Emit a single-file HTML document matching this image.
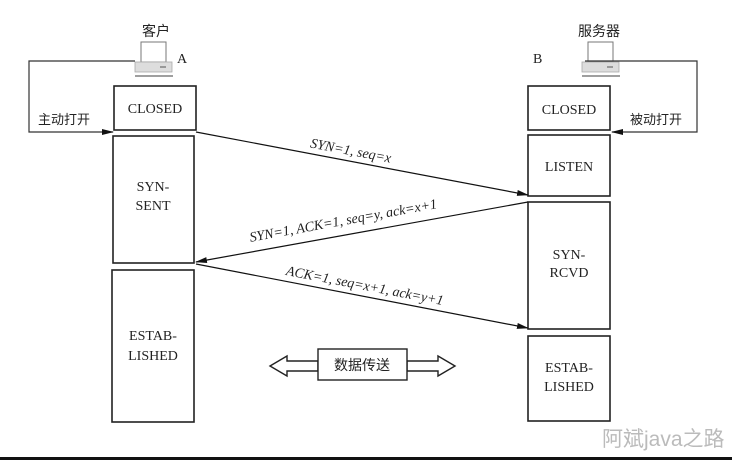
<!DOCTYPE html>
<html><head><meta charset="utf-8"><style>
html,body{margin:0;padding:0;background:#fff;}
svg{display:block}
text{font-family:"Liberation Serif","Noto Serif CJK SC",serif;fill:#222}
.cj{font-family:"Liberation Sans","Noto Sans CJK SC",sans-serif;}
</style></head><body>
<svg width="732" height="460" viewBox="0 0 732 460" xmlns="http://www.w3.org/2000/svg">
<defs>
<marker id="a" markerWidth="12" markerHeight="8" refX="11" refY="4" orient="auto" markerUnits="userSpaceOnUse">
<path d="M0,1 L12,4 L0,7 Z" fill="#111"/></marker>
</defs>
<rect width="732" height="460" fill="#fff"/>
<g>
<rect x="141" y="42" width="25" height="20" fill="#fff" stroke="#777" stroke-width="1"/>
<rect x="135" y="62" width="37" height="10" fill="#ddd" stroke="#aaa" stroke-width="0.8"/>
<line x1="135" y1="76" x2="173" y2="76" stroke="#666" stroke-width="1.2"/>
<line x1="160" y1="67" x2="166" y2="67" stroke="#555"/>
</g>
<g transform="translate(447,0)">
<rect x="141" y="42" width="25" height="20" fill="#fff" stroke="#777" stroke-width="1"/>
<rect x="135" y="62" width="37" height="10" fill="#ddd" stroke="#aaa" stroke-width="0.8"/>
<line x1="135" y1="76" x2="173" y2="76" stroke="#666" stroke-width="1.2"/>
<line x1="160" y1="67" x2="166" y2="67" stroke="#555"/>
</g>
<text x="142" y="36" font-size="14" class="cj">客户</text>
<text x="177" y="63" font-size="14">A</text>
<text x="578" y="36" font-size="14" class="cj">服务器</text>
<text x="533" y="63" font-size="14">B</text>
<polyline points="135,61 29,61 29,132 113,132" fill="none" stroke="#333" stroke-width="1.2" marker-end="url(#a)"/>
<text x="38" y="124" font-size="13" class="cj">主动打开</text>
<polyline points="585,61 697,61 697,132 612,132" fill="none" stroke="#333" stroke-width="1.2" marker-end="url(#a)"/>
<text x="630" y="124" font-size="13" class="cj">被动打开</text>
<g fill="#fff" stroke="#222" stroke-width="1.6">
<rect x="114" y="86" width="82" height="44"/>
<rect x="113" y="136" width="81" height="127"/>
<rect x="112" y="270" width="82" height="152"/>
<rect x="528" y="86" width="82" height="44"/>
<rect x="528" y="135" width="82" height="61"/>
<rect x="528" y="202" width="82" height="127"/>
<rect x="528" y="336" width="82" height="85"/>
</g>
<g font-size="14" text-anchor="middle">
<text x="155" y="113">CLOSED</text>
<text x="153" y="191">SYN-</text><text x="153" y="210">SENT</text>
<text x="153" y="340">ESTAB-</text><text x="153" y="360">LISHED</text>
<text x="569" y="114">CLOSED</text>
<text x="569" y="171">LISTEN</text>
<text x="569" y="259">SYN-</text><text x="569" y="277">RCVD</text>
<text x="569" y="372">ESTAB-</text><text x="569" y="391">LISHED</text>
</g>
<line x1="196" y1="132" x2="528" y2="195" stroke="#111" stroke-width="1.2" marker-end="url(#a)"/>
<line x1="528" y1="202" x2="196" y2="262" stroke="#111" stroke-width="1.2" marker-end="url(#a)"/>
<line x1="196" y1="264" x2="528" y2="328" stroke="#111" stroke-width="1.2" marker-end="url(#a)"/>
<g font-size="14" font-style="italic" text-anchor="middle">
<text transform="translate(350,155) rotate(10.7)">SYN=1, seq=x</text>
<text transform="translate(344,225) rotate(-10.2)">SYN=1, ACK=1, seq=y, ack=x+1</text>
<text transform="translate(364,290) rotate(10.9)">ACK=1, seq=x+1, ack=y+1</text>
</g>
<path d="M270,366 L287,356 L287,361 L318,361 L318,371 L287,371 L287,376 Z" fill="#fff" stroke="#222" stroke-width="1.4"/>
<path d="M455,366 L438,356 L438,361 L407,361 L407,371 L438,371 L438,376 Z" fill="#fff" stroke="#222" stroke-width="1.4"/>
<rect x="318" y="349" width="89" height="31" fill="#fff" stroke="#222" stroke-width="1.4"/>
<text x="362" y="370" font-size="14" text-anchor="middle" class="cj">数据传送</text>
<text x="602" y="446" font-size="21" style="fill:#bbb" class="cj">阿斌java之路</text>
<rect x="0" y="457" width="732" height="3" fill="#111"/>
</svg>
</body></html>
